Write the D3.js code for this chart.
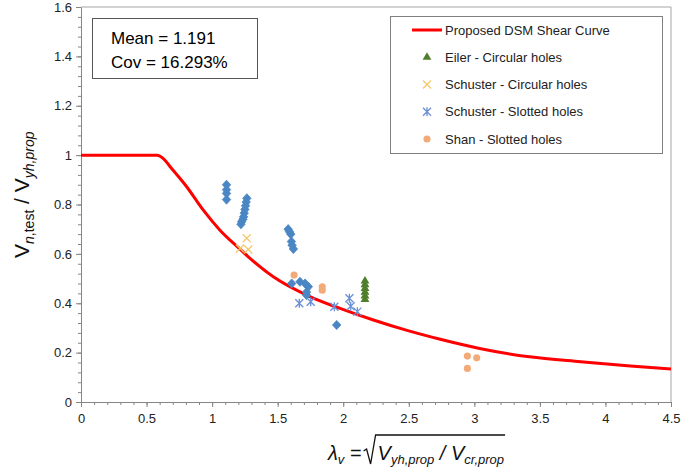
<!DOCTYPE html>
<meta charset="utf-8">
<style>
body { margin: 0; background: #fff; }
svg { font-family: "Liberation Sans", Arial, sans-serif; }
.axis path, .axis line { stroke: #868686; }
.axis text { font-size: 13px; fill: #222; }
.frame { stroke: #a6a6a6; fill: none; }
.legend text { font-size: 13px; fill: #222; }
</style>

<svg width="700" height="471"></svg>
<script src="https://cdn.jsdelivr.net/npm/d3@7"></script>
<script>

// DSM shear curve
var curveLambda = [0, 0.58, 0.63, 0.68, 0.806, 0.933, 1.06, 1.2, 1.276, 1.467, 1.72, 1.976, 2.23, 2.48, 2.74, 3.04, 3.42, 3.81, 4.19, 4.5];
var curveRatio  = [1, 1, 0.985, 0.953, 0.872, 0.777, 0.696, 0.625, 0.588, 0.507, 0.433, 0.379, 0.332, 0.291, 0.254, 0.217, 0.183, 0.163, 0.146, 0.134];

// unlabelled blue diamonds
var diamondLambda = [1.11, 1.11, 1.11, 1.11,
                     1.265, 1.26, 1.255, 1.25, 1.245, 1.24, 1.235, 1.225, 1.22,
                     1.58, 1.59, 1.6, 1.605, 1.61, 1.62,
                     1.607, 1.67, 1.709, 1.734, 1.72, 1.72,
                     1.95];
var diamondRatio  = [0.88, 0.86, 0.845, 0.82,
                     0.825, 0.81, 0.795, 0.78, 0.765, 0.75, 0.74, 0.73, 0.72,
                     0.70, 0.69, 0.68, 0.65, 0.635, 0.62,
                     0.48, 0.487, 0.48, 0.467, 0.445, 0.433,
                     0.312];

// Eiler - Circular holes
var eilerLambda = [2.166, 2.166, 2.166, 2.166, 2.166, 2.166];
var eilerRatio  = [0.49, 0.475, 0.46, 0.445, 0.43, 0.415];

// Schuster - Circular holes
var schCircLambda = [1.264, 1.213, 1.276];
var schCircRatio  = [0.663, 0.622, 0.618];

// Schuster - Slotted holes
var schSlotLambda = [1.665, 1.752, 1.932, 2.047, 2.057, 2.108];
var schSlotRatio  = [0.40, 0.406, 0.386, 0.42, 0.388, 0.366];

// Shan - Slotted holes
var shanLambda = [1.625, 1.84, 1.84, 2.947, 3.018, 2.947];
var shanRatio  = [0.514, 0.467, 0.453, 0.186, 0.179, 0.136];

var xTicks = [0, 0.5, 1, 1.5, 2, 2.5, 3, 3.5, 4, 4.5];
var yTicks = [0, 0.2, 0.4, 0.6, 0.8, 1, 1.2, 1.4, 1.6];

var legendNames = ["Proposed DSM Shear Curve", "Eiler - Circular holes", "Schuster - Circular holes",
                   "Schuster - Slotted holes", "Shan - Slotted holes"];

var svg = d3.select("svg");

var x = d3.scaleLinear().domain([0, 4.5]).range([81, 671]);
var y = d3.scaleLinear().domain([0, 1.6]).range([402, 7]);

function pairs(a, b) { return a.map(function(v, i) { return [v, b[i]]; }); }

// frame (top and right)
svg.append("path")
    .attr("class", "frame")
    .attr("d", "M" + x(0) + "," + y(1.6) + "H" + x(4.5) + "V" + y(0));

// minor ticks
svg.append("g")
    .attr("class", "axis")
    .attr("transform", "translate(0," + y(0) + ")")
    .call(d3.axisBottom(x).tickValues(d3.range(0, 46).map(function(i) { return i / 10; }))
        .tickSize(3).tickFormat(""))
    .select(".domain").remove();
svg.append("g")
    .attr("class", "axis")
    .attr("transform", "translate(" + x(0) + ",0)")
    .call(d3.axisLeft(y).tickValues(d3.range(0, 41).map(function(i) { return i * 0.04; }))
        .tickSize(3).tickFormat(""))
    .select(".domain").remove();

// major axes
svg.append("g")
    .attr("class", "axis")
    .attr("transform", "translate(0," + y(0) + ")")
    .call(d3.axisBottom(x).tickValues(xTicks).tickSize(5).tickSizeOuter(0).tickPadding(4)
        .tickFormat(d3.format("")))
    .selectAll("text").attr("dy", "0.9em");
svg.append("g")
    .attr("class", "axis")
    .attr("transform", "translate(" + x(0) + ",0)")
    .call(d3.axisLeft(y).tickValues(yTicks).tickSize(5).tickSizeOuter(0).tickPadding(4)
        .tickFormat(d3.format("")));

// curve
svg.append("path")
    .datum(pairs(curveLambda, curveRatio))
    .attr("fill", "none")
    .attr("stroke", "#ff0000")
    .attr("stroke-width", 3)
    .attr("d", d3.line()
        .x(function(d) { return x(d[0]); })
        .y(function(d) { return y(d[1]); })
        .curve(d3.curveMonotoneX));

// markers
var diamond = "M0,-4.6L4.2,0L0,4.6L-4.2,0Z";
var triangle = d3.symbol().type(d3.symbolTriangle).size(34);
var cross = "M-4,-4L4,4M-4,4L4,-4";
var star = "M-4,-4L4,4M-4,4L4,-4M0,-4.5V4.5";

function drawPoints(data, draw) {
    var g = svg.append("g");
    g.selectAll("path")
        .data(data)
        .enter().append("path")
        .attr("transform", function(d) { return "translate(" + x(d[0]) + "," + y(d[1]) + ")"; })
        .each(draw);
}

drawPoints(pairs(diamondLambda, diamondRatio), function() {
    d3.select(this).attr("d", diamond).attr("fill", "#4a86c4")
        .attr("stroke", "#4a86c4").attr("stroke-width", 0.8).attr("stroke-linejoin", "round");
});
drawPoints(pairs(schCircLambda, schCircRatio), function() {
    d3.select(this).attr("d", cross).attr("stroke", "#f5c96a")
        .attr("stroke-width", 1.3).attr("fill", "none");
});
drawPoints(pairs(schSlotLambda, schSlotRatio), function() {
    d3.select(this).attr("d", star).attr("stroke", "#6b8fd6")
        .attr("stroke-width", 1.3).attr("fill", "none");
});
drawPoints(pairs(eilerLambda, eilerRatio), function() {
    d3.select(this).attr("d", triangle).attr("fill", "#4f7f2c");
});
drawPoints(pairs(shanLambda, shanRatio), function() {
    d3.select(this).attr("d", d3.symbol().type(d3.symbolCircle).size(40)).attr("fill", "#f2aa78");
});

// mean box
svg.append("rect")
    .attr("x", 92.5).attr("y", 18.5).attr("width", 165).attr("height", 60)
    .attr("fill", "#fff").attr("stroke", "#555");
svg.append("text").attr("x", 111).attr("y", 44).attr("font-size", 17).text("Mean = 1.191");
svg.append("text").attr("x", 111).attr("y", 68).attr("font-size", 17).text("Cov = 16.293%");

// legend
var legend = svg.append("g").attr("class", "legend");
legend.append("rect")
    .attr("x", 390.5).attr("y", 16.5).attr("width", 272).attr("height", 137)
    .attr("fill", "#fff").attr("stroke", "#808080");
var rowY = d3.scalePoint().domain(legendNames).range([30, 139]);
legend.append("line")
    .attr("x1", 412).attr("x2", 442).attr("y1", rowY(legendNames[0])).attr("y2", rowY(legendNames[0]))
    .attr("stroke", "#ff0000").attr("stroke-width", 3);
var lx = 427;
legend.append("path").attr("d", triangle).attr("fill", "#4f7f2c")
    .attr("transform", "translate(" + lx + "," + rowY(legendNames[1]) + ")");
legend.append("path").attr("d", cross).attr("stroke", "#f5c96a").attr("stroke-width", 1.3)
    .attr("transform", "translate(" + lx + "," + rowY(legendNames[2]) + ")");
legend.append("path").attr("d", star).attr("stroke", "#6b8fd6").attr("stroke-width", 1.3)
    .attr("transform", "translate(" + lx + "," + rowY(legendNames[3]) + ")");
legend.append("path").attr("d", d3.symbol().type(d3.symbolCircle).size(40)).attr("fill", "#f2aa78")
    .attr("transform", "translate(" + lx + "," + rowY(legendNames[4]) + ")");
legend.selectAll("text.lbl")
    .data(legendNames)
    .enter().append("text")
    .attr("class", "lbl")
    .attr("x", 445)
    .attr("y", function(d) { return rowY(d); })
    .attr("dy", "0.35em")
    .text(function(d) { return d; });

// y title
var yt = svg.append("text")
    .attr("transform", "translate(29,258) rotate(-90)")
    .attr("font-size", 21).attr("fill", "#111");
yt.append("tspan").text("V");
yt.append("tspan").attr("font-size", 14).attr("font-style", "italic").attr("dy", 5).text("n");
yt.append("tspan").attr("font-size", 14).text(",test");
yt.append("tspan").attr("dy", -5).text(" / V");
yt.append("tspan").attr("font-size", 14).attr("font-style", "italic").attr("dy", 5).text("yh,prop");

// x title
var xt = svg.append("text")
    .attr("x", 328).attr("y", 460)
    .attr("font-size", 20).attr("font-style", "italic").attr("fill", "#111");
xt.append("tspan").text("λ");
xt.append("tspan").attr("font-size", 13).attr("dy", 4).text("v");
xt.append("tspan").attr("dy", -4).attr("font-style", "normal").text(" = ");
var r0 = xt.node().getBBox().x + xt.node().getBBox().width + 2;

var rt = svg.append("text")
    .attr("x", r0 + 14).attr("y", 460)
    .attr("font-size", 20).attr("font-style", "italic").attr("fill", "#111");
rt.append("tspan").text("V");
rt.append("tspan").attr("font-size", 13).attr("dy", 4).text("yh,prop");
rt.append("tspan").attr("dy", -4).text(" / V");
rt.append("tspan").attr("font-size", 13).attr("dy", 4).text("cr,prop");
var rEnd = rt.node().getBBox().x + rt.node().getBBox().width + 1;

svg.append("path")
    .attr("fill", "none").attr("stroke", "#111").attr("stroke-width", 1.3)
    .attr("d", "M" + r0 + ",451L" + (r0 + 3) + ",449L" + (r0 + 7) + ",464L" + (r0 + 12) + ",435H" + rEnd);

</script>
